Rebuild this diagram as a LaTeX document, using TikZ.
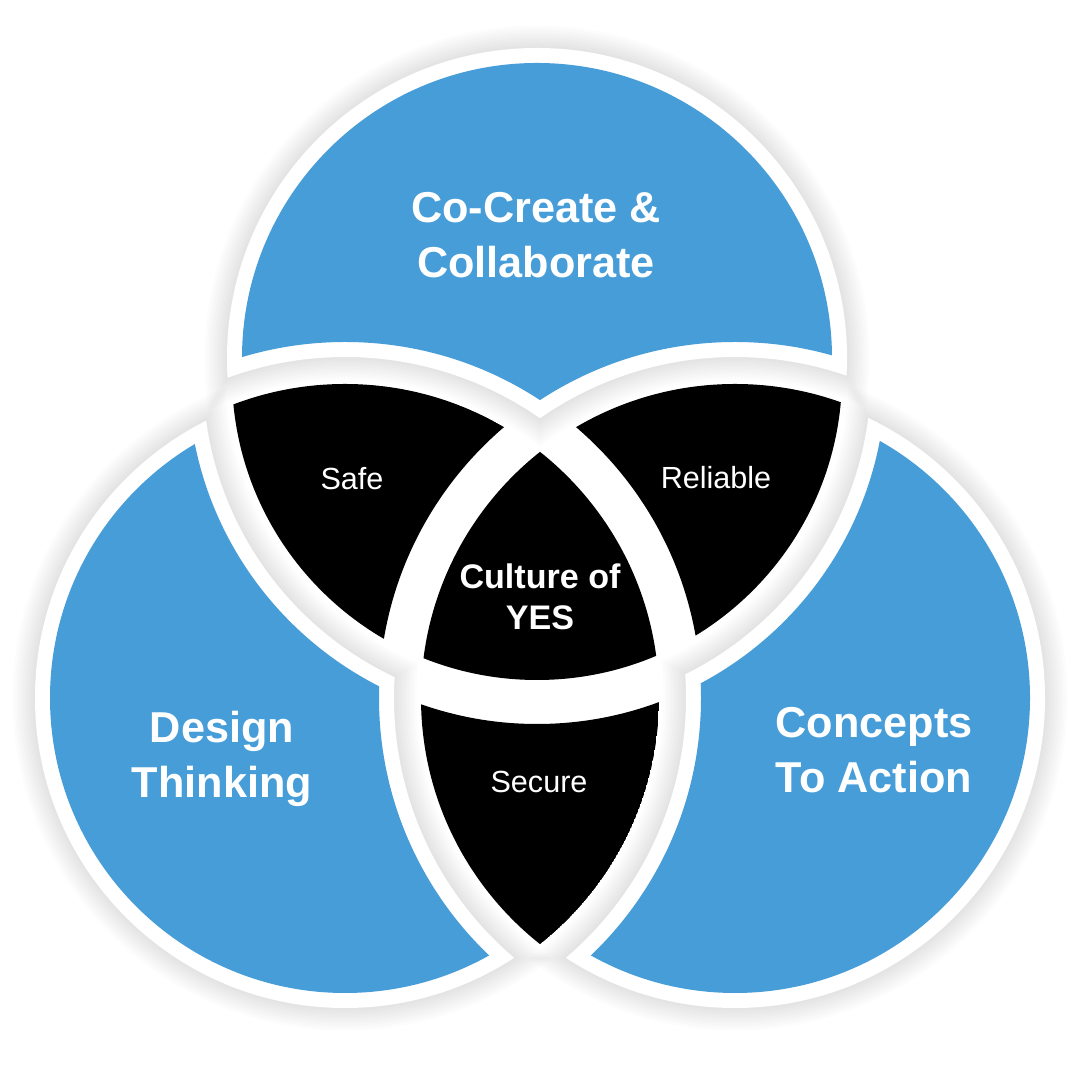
\documentclass[tikz,border=0pt]{standalone}
\usepackage{fontspec}
\setmainfont{Liberation Sans}
\setsansfont{Liberation Sans}
\definecolor{vennblue}{HTML}{469DD8}
\definecolor{ink}{HTML}{000000}
% radii (cm): blue discs, side circles and top circle cut lines
\newcommand{\rBlue}{2.95}
\newcommand{\rSin}{3.14}
\newcommand{\rSout}{3.56}
\newcommand{\rTin}{3.05}
\newcommand{\rTout}{3.49}
% clip to the outside of a circle (scope needs even odd rule)
\newcommand{\cutaway}[2]{\clip (-1,-1) rectangle (11.8,11.8) (#1) circle[radius=#2];}
\tikzset{
  every node/.style={font=\sffamily, inner sep=0pt},
  biglbl/.style={font=\sffamily\bfseries\fontsize{12.3}{15.6}\selectfont, text=white, align=center},
  midlbl/.style={font=\sffamily\bfseries\fontsize{9.7}{11.7}\selectfont, text=white, align=center},
  smalllbl/.style={font=\sffamily\fontsize{8.7}{10.4}\selectfont, text=white},
  blob/.style={fill=vennblue},
  lens/.style={fill=ink},
  halo/.style={fill=black, opacity=0.012},
}

\begin{document}
\begin{tikzpicture}
\useasboundingbox (0,0) rectangle (10.8,10.8);

\coordinate (topc) at (5.37,7.22);
\coordinate (topi) at (5.37,7.05);
\coordinate (leftc) at (3.45,3.82);
\coordinate (rightc) at (7.35,3.82);

% soft shadows under the blue pieces
\foreach \own/\oa/\ra/\ob/\rb in {topc/leftc/\rSout/rightc/\rSout,
                                  leftc/topi/\rTout/rightc/\rSout,
                                  rightc/topi/\rTout/leftc/\rSout}{
  \foreach \k in {1,...,9}{
    \begin{scope}[yshift=-0.025cm, even odd rule]
      \cutaway{\oa}{\ra-0.15-0.025*\k}
      \cutaway{\ob}{\rb-0.15-0.025*\k}
      \fill[halo] (\own) circle[radius=\rBlue+0.15+0.025*\k];
    \end{scope}
  }
}

% black lenses
\begin{scope}[even odd rule]% safe
  \clip (topi) circle[radius=\rTin];
  \clip (leftc) circle[radius=\rSin];
  \cutaway{rightc}{\rSout}
  \fill[lens] (leftc) circle[radius=\rSin];
\end{scope}
\begin{scope}[even odd rule]% reliable
  \clip (topi) circle[radius=\rTin];
  \clip (rightc) circle[radius=\rSin];
  \cutaway{leftc}{\rSout}
  \fill[lens] (rightc) circle[radius=\rSin];
\end{scope}
\begin{scope}[even odd rule]% secure
  \clip (leftc) circle[radius=\rSin];
  \clip (rightc) circle[radius=\rSin];
  \cutaway{topi}{\rTout}
  \fill[lens] (leftc) circle[radius=\rSin];
\end{scope}
\begin{scope}% culture of yes
  \clip (topi) circle[radius=\rTin];
  \clip (leftc) circle[radius=\rSin];
  \fill[lens] (rightc) circle[radius=\rSin];
\end{scope}

% blue pieces with white rim
\foreach \own/\oa/\ra/\ob/\rb in {topc/leftc/\rSout/rightc/\rSout,
                                  leftc/topi/\rTout/rightc/\rSout,
                                  rightc/topi/\rTout/leftc/\rSout}{
  \begin{scope}[even odd rule]
    \cutaway{\oa}{\ra-0.15}
    \cutaway{\ob}{\rb-0.15}
    \fill[white] (\own) circle[radius=\rBlue+0.15];
  \end{scope}
  \begin{scope}[even odd rule]
    \cutaway{\oa}{\ra}
    \cutaway{\ob}{\rb}
    \fill[blob] (\own) circle[radius=\rBlue];
  \end{scope}
}

\node[biglbl] (cocreate) at (5.36,8.45) {Co-Create \&\\Collaborate};
\node[biglbl] (design) at (2.22,3.21) {Design\\Thinking};
\node[biglbl] (concepts) at (8.74,3.30) {Concepts\\To Action};
\node[midlbl] (yes) at (5.40,4.83) {Culture of\\YES};
\node[smalllbl] (safe) at (3.52,6.01) {Safe};
\node[smalllbl] (reliable) at (7.16,6.02) {Reliable};
\node[smalllbl] (secure) at (5.39,2.98) {Secure};

\end{tikzpicture}
\end{document}
